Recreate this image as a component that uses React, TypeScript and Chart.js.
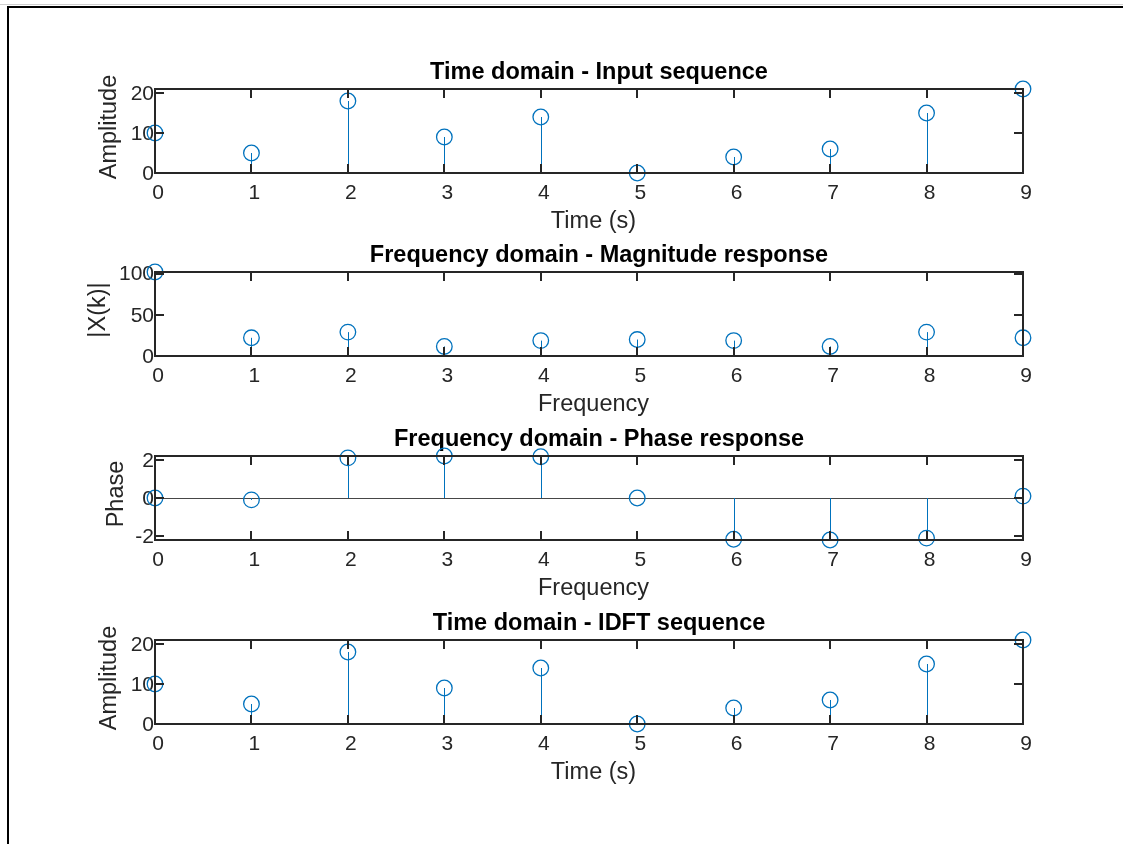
import React, { useEffect, useRef } from "react";
import { Chart, registerables } from "chart.js";

Chart.register(...registerables);

// ---------------- data ----------------
const sampleIndex = [0, 1, 2, 3, 4, 5, 6, 7, 8, 9];
const inputSequence = [10, 5, 18, 9, 14, 0, 4, 6, 15, 21];
const magnitudeResponse = [102, 22.1, 29.0, 11.6, 18.7, 20.0, 18.7, 11.6, 29.0, 22.1];
const phaseResponse = [0, -0.1, 2.12, 2.22, 2.18, 0, -2.18, -2.22, -2.12, 0.1];
const idftSequence = [10, 5, 18, 9, 14, 0, 4, 6, 15, 21];

const xTickValues = [0, 1, 2, 3, 4, 5, 6, 7, 8, 9];
const amplitudeTicks = [0, 10, 20];
const magnitudeTicks = [0, 50, 100];
const phaseTicks = [-2, 0, 2];

// ---------------- styling / layout ----------------
const FONT = "'Liberation Sans', Arial, Helvetica, sans-serif";
const BLUE = "#0072BD";
const AXIS = "#262626";
const CANVAS_W = 1123;
const CANVAS_H = 178;
const TITLE_BOX = 31;
const TITLE_LH = 23.5 * 1.2;
const X_SCALE_H = 63;
const PLOT_LEFT = 155;
const PLOT_RIGHT = 1023;
const TICK_LEN = 9;
const TITLE_CENTER = 599;

type Spec = {
  title: string;
  xLabel: string;
  yLabel: string;
  values: number[];
  yTicks: number[];
  plotTop: number;
  yTitleX: number;
};

const specs: Spec[] = [
  { title: "Time domain - Input sequence", xLabel: "Time (s)", yLabel: "Amplitude", values: inputSequence, yTicks: amplitudeTicks, plotTop: 89, yTitleX: 110 },
  { title: "Frequency domain - Magnitude response", xLabel: "Frequency", yLabel: "|X(k)|", values: magnitudeResponse, yTicks: magnitudeTicks, plotTop: 272, yTitleX: 99 },
  { title: "Frequency domain - Phase response", xLabel: "Frequency", yLabel: "Phase", values: phaseResponse, yTicks: phaseTicks, plotTop: 456, yTitleX: 117 },
  { title: "Time domain - IDFT sequence", xLabel: "Time (s)", yLabel: "Amplitude", values: idftSequence, yTicks: amplitudeTicks, plotTop: 640, yTitleX: 110 },
];

const stemPlugin = {
  id: "stemPlugin",
  afterLayout(chart: any) {
    const tb = chart.titleBlock;
    if (tb) {
      tb.left = TITLE_CENTER - 450;
      tb.right = TITLE_CENTER + 450;
    }
    const xs = chart.scales.x;
    xs.left += 4.5;
    xs.right += 4.5;
    const ys = chart.scales.y;
    ys.top -= 4;
    ys.bottom -= 4;
  },
  beforeDatasetsDraw(chart: any) {
    const { ctx, chartArea } = chart;
    const ys = chart.scales.y;
    const y0 = ys.getPixelForValue(0);
    ctx.save();
    // stem baseline
    ctx.strokeStyle = "rgba(38,38,38,0.85)";
    ctx.lineWidth = 1;
    ctx.beginPath();
    ctx.moveTo(chartArea.left, Math.round(y0) + 0.5);
    ctx.lineTo(chartArea.right, Math.round(y0) + 0.5);
    ctx.stroke();
    // stems
    const meta = chart.getDatasetMeta(0);
    ctx.strokeStyle = BLUE;
    ctx.lineWidth = 1;
    meta.data.forEach((pt: any) => {
      const x = Math.round(pt.x) + 0.5;
      ctx.beginPath();
      ctx.moveTo(x, y0);
      ctx.lineTo(x, pt.y);
      ctx.stroke();
    });
    ctx.restore();
  },
  afterDatasetsDraw(chart: any) {
    const { ctx, chartArea } = chart;
    const xs = chart.scales.x;
    const ys = chart.scales.y;
    const { left, right, top, bottom } = chartArea;
    ctx.save();
    ctx.strokeStyle = AXIS;
    ctx.lineWidth = 2;
    ctx.strokeRect(left, top, right - left, bottom - top);
    ctx.beginPath();
    xs.ticks.forEach((t: any) => {
      const x = Math.round(xs.getPixelForValue(t.value));
      ctx.moveTo(x, bottom);
      ctx.lineTo(x, bottom - TICK_LEN);
      ctx.moveTo(x, top);
      ctx.lineTo(x, top + TICK_LEN);
    });
    ys.ticks.forEach((t: any) => {
      const y = Math.round(ys.getPixelForValue(t.value));
      ctx.moveTo(left, y);
      ctx.lineTo(left + TICK_LEN, y);
      ctx.moveTo(right, y);
      ctx.lineTo(right - TICK_LEN, y);
    });
    ctx.stroke();
    ctx.restore();
  },
};

function Subplot({ spec }: { spec: Spec }) {
  const ref = useRef<HTMLCanvasElement | null>(null);
  useEffect(() => {
    if (!ref.current) return;
    const L = spec.yTitleX - TITLE_LH / 2;
    const yMin = Math.min(0, ...spec.values);
    const yMax = Math.max(...spec.values);
    const chart = new Chart(ref.current, {
      type: "scatter",
      data: {
        datasets: [
          {
            data: sampleIndex.map((x, i) => ({ x, y: spec.values[i] })),
            pointStyle: "circle",
            pointRadius: 7.8,
            pointBorderWidth: 1.3,
            pointBorderColor: BLUE,
            pointBackgroundColor: "rgba(0,0,0,0)",
            showLine: false,
            clip: false,
          } as any,
        ],
      },
      options: {
        animation: false,
        responsive: false,
        devicePixelRatio: 1,
        events: [],
        layout: { padding: { left: L, right: CANVAS_W - PLOT_RIGHT, top: 0, bottom: 0 } },
        plugins: {
          legend: { display: false },
          tooltip: { enabled: false },
          title: {
            display: true,
            text: spec.title,
            color: "#000000",
            font: { family: FONT, size: 23.5, weight: "bold", lineHeight: 1.2 },
            padding: { top: 0, bottom: TITLE_BOX - TITLE_LH },
          },
        },
        scales: {
          x: {
            type: "linear",
            min: 0,
            max: 9,
            grid: { display: false, drawTicks: false },
            border: { display: false },
            afterBuildTicks: (s: any) => {
              s.ticks = xTickValues.map((v) => ({ value: v }));
            },
            afterFit: (s: any) => {
              s.height = X_SCALE_H;
            },
            ticks: {
              padding: 8,
              labelOffset: 3,
              color: AXIS,
              autoSkip: false,
              maxRotation: 0,
              font: { family: FONT, size: 21 },
            },
            title: {
              display: true,
              text: spec.xLabel,
              color: AXIS,
              font: { family: FONT, size: 23.5, lineHeight: 1.2 },
              padding: { top: 0, bottom: 0 },
            },
          },
          y: {
            type: "linear",
            min: yMin,
            max: yMax,
            grid: { display: false, drawTicks: false },
            border: { display: false },
            afterBuildTicks: (s: any) => {
              s.ticks = spec.yTicks.map((v) => ({ value: v }));
            },
            afterFit: (s: any) => {
              s.width = PLOT_LEFT - L;
            },
            ticks: {
              padding: 1,
              labelOffset: 1,
              color: AXIS,
              autoSkip: false,
              font: { family: FONT, size: 21 },
            },
            title: {
              display: true,
              text: spec.yLabel,
              color: AXIS,
              font: { family: FONT, size: 23.5, lineHeight: 1.2 },
              padding: { top: 0, bottom: 0 },
            },
          },
        },
      } as any,
      plugins: [stemPlugin as any],
    });
    return () => chart.destroy();
  }, [spec]);
  return (
    <canvas
      ref={ref}
      width={CANVAS_W}
      height={CANVAS_H}
      style={{
        position: "absolute",
        left: 0,
        top: spec.plotTop - TITLE_BOX,
        width: CANVAS_W,
        height: CANVAS_H,
        display: "block",
      }}
    />
  );
}

export default function App() {
  return (
    <div
      style={{
        position: "absolute",
        left: 0,
        top: 0,
        width: 1123,
        height: 844,
        overflow: "hidden",
        background: "#ffffff",
      }}
    >
      <div style={{ position: "absolute", left: 0, top: 4, width: 1123, height: 1, background: "#cfcfcf" }} />
      <div
        style={{
          position: "absolute",
          left: 7,
          top: 6,
          width: 1200,
          height: 900,
          borderLeft: "2px solid #000",
          borderTop: "2px solid #000",
        }}
      />
      {specs.map((s, i) => (
        <Subplot key={i} spec={s} />
      ))}
    </div>
  );
}
